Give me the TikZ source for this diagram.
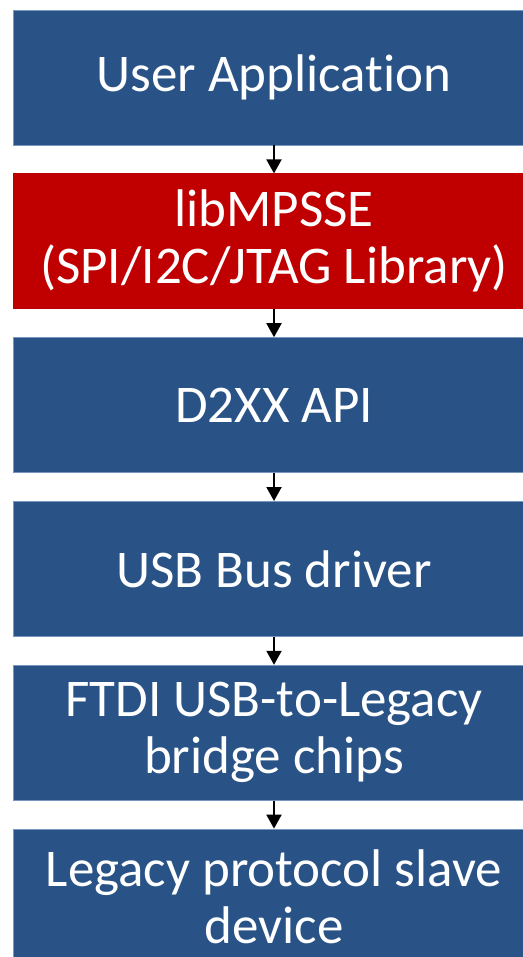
\documentclass[tikz,border=0pt]{standalone}
\usepackage{fontspec}
\setmainfont{Carlito}[Ligatures=NoCommon]
\usetikzlibrary{arrows.meta}
\definecolor{layerblue}{RGB}{41,83,134}
\definecolor{layeredge}{RGB}{120,152,194}
\definecolor{libred}{RGB}{192,0,0}
\tikzstyle{layer} = [rectangle, minimum width=522bp, minimum height=135bp, inner sep=0pt,
text centered, align=center, text=white, fill=layerblue, draw=layeredge, line width=0.8bp,
font=\fontsize{53bp}{57bp}\selectfont]
\tikzstyle{lib} = [layer, fill=libred, draw=libred]
\tikzstyle{arrow} = [line width=2bp,-{Triangle[length=14bp,width=15bp]}]

\begin{document}
\begin{tikzpicture}[x=1bp,y=1bp,node distance=163.8bp]

\useasboundingbox (0,0) rectangle (523,-957);
\clip (0,0) rectangle (523,-957);

\node (app) [layer] at (274,-77.5) {User Application};
\node (mpsse) [lib, below of=app] {libMPSSE\\(SPI/I2C/JTAG Library)};
\node (d2xx) [layer, below of=mpsse] {D2XX API};
\node (usbdrv) [layer, below of=d2xx] {USB Bus driver};
\node (chips) [layer, below of=usbdrv] {FTDI USB-to-Legacy\\bridge chips};
\node (slave) [layer, below of=chips] {Legacy protocol slave\\device};

\draw [arrow] (app) -- (mpsse);
\draw [arrow] (mpsse) -- (d2xx);
\draw [arrow] (d2xx) -- (usbdrv);
\draw [arrow] (usbdrv) -- (chips);
\draw [arrow] (chips) -- (slave);



\end{tikzpicture}
\end{document}
